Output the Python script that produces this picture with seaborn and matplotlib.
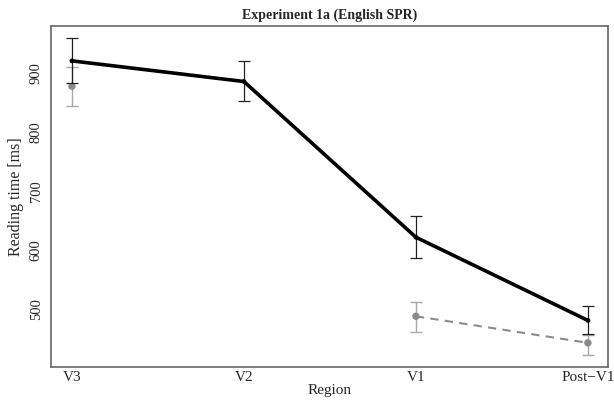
import numpy as np
import pandas as pd
import matplotlib
matplotlib.use("Agg")
import matplotlib.pyplot as plt
import seaborn as sns

regions = ["V3", "V2", "V1", "Post\u2212V1"]

# black (solid) condition
rt_main = [921, 886, 622, 481]
ci_main_lo = [883, 853, 586, 458]
ci_main_hi = [960, 920, 658, 505]

# grey (dashed) condition, no value at V2
rt_other = [878, np.nan, 488, 443]
ci_other_lo = [845, np.nan, 462, 422]
ci_other_hi = [910, np.nan, 513, 457]

df = pd.DataFrame({
    "Region": regions,
    "pos": np.arange(len(regions)),
    "main": rt_main,
    "main_lo": ci_main_lo,
    "main_hi": ci_main_hi,
    "other": rt_other,
    "other_lo": ci_other_lo,
    "other_hi": ci_other_hi,
})

sns.set_style("white")
plt.rcParams["font.family"] = ["Liberation Serif", "DejaVu Serif"]

fig = plt.figure(figsize=(6.14, 4.03), dpi=100)
ax = fig.add_axes([0.083, 0.0893, 0.907, 0.846])

# grey condition (line broken where the value is missing)
ax.errorbar(df["pos"], df["other"],
            yerr=[df["other"] - df["other_lo"], df["other_hi"] - df["other"]],
            fmt="none", ecolor="#a8a8a8", elinewidth=1, capsize=4, capthick=1, zorder=2)
ax.plot(df["pos"], df["other"], color="#8a8a8a",
        linestyle=(0, (4, 3)), linewidth=1.5, zorder=3)
sns.scatterplot(data=df, x="pos", y="other", ax=ax, color="#8a8a8a",
                s=28, edgecolor="none", zorder=4)

# black condition
ax.errorbar(df["pos"], df["main"],
            yerr=[df["main"] - df["main_lo"], df["main_hi"] - df["main"]],
            fmt="none", ecolor="#222222", elinewidth=0.9, capsize=4, capthick=0.9, zorder=5)
sns.lineplot(data=df, x="pos", y="main", ax=ax, color="black",
             linewidth=2.6, zorder=6)
sns.scatterplot(data=df, x="pos", y="main", ax=ax, color="black",
                s=12, edgecolor="none", zorder=7)

ax.set_xlim(-0.122, 3.116)
ax.set_ylim(402, 980)
ax.set_xticks(df["pos"])
ax.set_xticklabels(regions)
ax.set_yticks([500, 600, 700, 800, 900])
ax.set_yticklabels(["500", "600", "700", "800", "900"], rotation=90, va="center")
ax.tick_params(axis="y", length=4, width=0.8, color="#444444", labelsize=10.5, pad=2)
ax.tick_params(axis="x", length=0, labelsize=11, pad=3)

for s in ax.spines.values():
    s.set_color("#666666")
    s.set_linewidth(1.2)

ax.set_xlabel("Region", fontsize=11, labelpad=0)
ax.set_ylabel("Reading time [ms]", fontsize=11.5, labelpad=4)
ax.set_title("Experiment 1a (English SPR)", fontsize=10, fontweight="bold", pad=5)

fig.savefig("out.png", dpi=100)
